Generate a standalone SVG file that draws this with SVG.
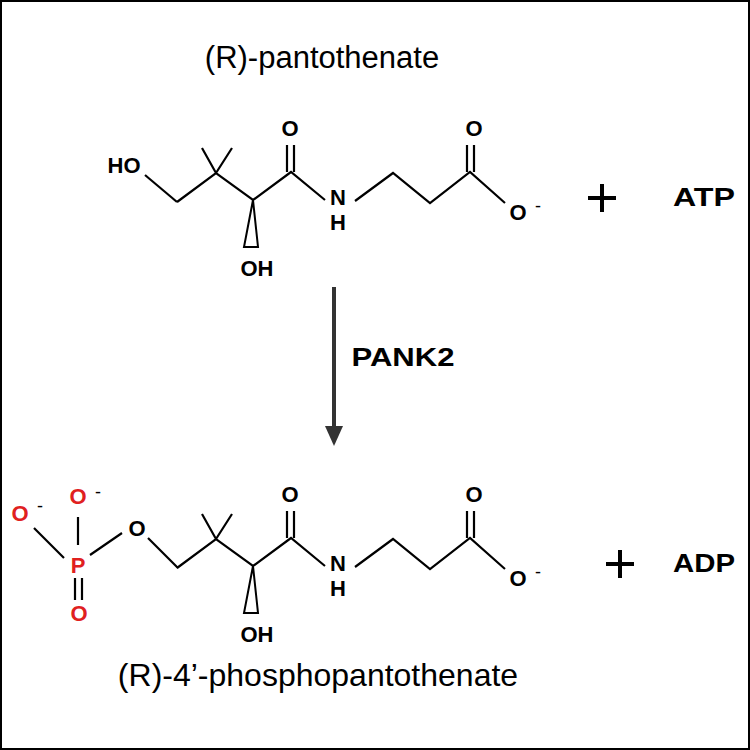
<svg xmlns="http://www.w3.org/2000/svg" width="750" height="750" viewBox="0 0 750 750">
<style>
.b{stroke:#000;stroke-width:2.2;fill:none}
.a{font-family:"Liberation Sans",Arial,sans-serif;font-weight:bold;font-size:22px;text-anchor:middle;fill:#000}
.red{fill:#e02020}
.t{font-family:"Liberation Sans",Arial,sans-serif;font-size:31px;text-anchor:middle;fill:#000}
.m{font-family:"Liberation Sans",Arial,sans-serif;font-size:18px;fill:#000}
.p{stroke:#000;stroke-width:4}
.w{font-size:26px}
</style>
<defs>
<g id="chain">
<path class="b" d="M177,202 L216,173 L253,200 L291,172 L325,200 M216,173 L202,148 M216,173 L232,148 M287,172 V145 M294,172 V145 M355,201 L393,173 L430,203 L470,172 L505,203 M467,172 V145 M474,172 V145"/>
<path d="M253,200 L244,247 L258,247 Z" fill="none" stroke="#000" stroke-width="2"/>
<text class="a" x="257" y="276">OH</text>
<text class="a" x="290" y="136">O</text>
<text class="a" x="474" y="136">O</text>
<text class="a" x="338" y="205">N</text>
<text class="a" x="338" y="230">H</text>
<text class="a" x="518" y="220">O</text>
<text class="m" x="535" y="212">-</text>
</g>
</defs>
<rect x="1" y="1" width="748" height="748" fill="#fff" stroke="#000" stroke-width="2"/>
<text class="t" x="322" y="68">(R)-pantothenate</text>
<g id="pantothenate">
<use href="#chain"/>
<path class="b" d="M145,175 L177,202"/>
<text class="a" x="124" y="173">HO</text>
</g>
<g id="atp"><path class="p" d="M588,198 H616 M602,184 V212"/><text class="a w" x="704" y="206" textLength="62" lengthAdjust="spacingAndGlyphs">ATP</text></g>
<g id="connectors">
<line x1="334" y1="287" x2="334" y2="428" stroke="#333" stroke-width="4"/>
<path d="M325,426 L343,426 L334,446 Z" fill="#333"/>
</g>
<text class="a w" x="403" y="366" textLength="103" lengthAdjust="spacingAndGlyphs">PANK2</text>
<g id="phosphopantothenate">
<g transform="translate(0,366)"><use href="#chain"/></g>
<path class="b" d="M148,538 L178,568 M34,528 L64,558 M78,517 V545 M90,555 L122,533 M75,578 V600 M82,578 V600"/>
<text class="a red" x="78" y="573">P</text>
<text class="a red" x="20" y="521">O</text><text class="m red" x="37" y="512">-</text>
<text class="a red" x="78" y="504">O</text><text class="m red" x="95" y="498">-</text>
<text class="a red" x="79" y="621">O</text>
<text class="a" x="137" y="536">O</text>
</g>
<g id="adp"><path class="p" d="M606,564 H634 M620,550 V578"/><text class="a w" x="704" y="572" textLength="62" lengthAdjust="spacingAndGlyphs">ADP</text></g>
<text class="t" x="318" y="686" style="font-size:32px">(R)-4’-phosphopantothenate</text>
</svg>
